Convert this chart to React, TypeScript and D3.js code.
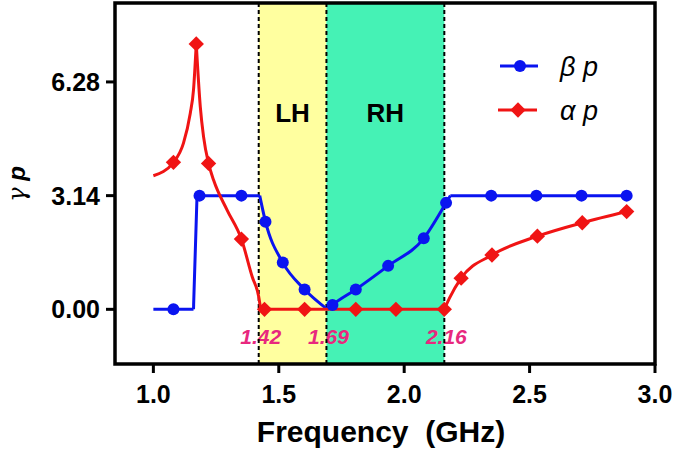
import React from 'react';
import * as d3 from 'd3';

// line vertices per piece (freq GHz, value), drawn with monotone curves
const betaLine: [number, number][][] = [
  [[1.0, 0], [1.16, 0]],
  [[1.16, 0], [1.174, 3.14]],
  [[1.174, 3.14], [1.424, 3.14]],
  [[1.424, 3.14], [1.447, 2.42], [1.516, 1.29], [1.603, 0.55], [1.694, 0]],
  [[1.694, 0], [1.714, 0.12], [1.807, 0.55], [1.936, 1.2], [2.078, 1.96], [2.167, 2.94], [2.184, 3.14]],
  [[2.184, 3.14], [2.887, 3.14]],
];
const alphaLine: [number, number][][] = [
  [[1.0, 3.69], [1.08, 4.06], [1.12, 4.59], [1.147, 5.41], [1.16, 6.06], [1.171, 7.33]],
  [[1.171, 7.33], [1.187, 5.6], [1.2, 4.77], [1.22, 4.03], [1.24, 3.57], [1.294, 2.74], [1.351, 1.94], [1.394, 0.9], [1.42, 0.35], [1.428, 0]],
  [[1.428, 0], [2.16, 0]],
  [[2.16, 0], [2.18, 0.3], [2.227, 0.86], [2.35, 1.5], [2.531, 2.02], [2.71, 2.39], [2.887, 2.7]],
];

// marker points
const betaFreq = [1.08, 1.184, 1.351, 1.447, 1.516, 1.603, 1.714, 1.807, 1.936, 2.078, 2.167, 2.347, 2.527, 2.707, 2.887];
const betaVal = [0, 3.14, 3.14, 2.42, 1.29, 0.55, 0.12, 0.55, 1.2, 1.96, 2.94, 3.14, 3.14, 3.14, 3.14];
const alphaFreq = [1.08, 1.171, 1.22, 1.351, 1.443, 1.603, 1.807, 1.967, 2.16, 2.227, 2.35, 2.531, 2.71, 2.887];
const alphaVal = [4.06, 7.33, 4.03, 1.94, 0, 0, 0, 0, 0, 0.86, 1.5, 2.02, 2.39, 2.7];

const xTicks = [1.0, 1.5, 2.0, 2.5, 3.0];
const yTicks = [0, 3.14, 6.28];
const bounds = [1.42, 1.69, 2.16];
const bands = [
  { name: 'LH', from: 1.42, to: 1.69, color: '#ffff9f' },
  { name: 'RH', from: 1.69, to: 2.16, color: '#45f2b5' },
];

const W = 675;
const H = 449;
const left = 115, right = 655, top = 3, bottom = 364;
const font = "Arial, 'Liberation Sans', sans-serif";

export default function App() {
  const x = d3.scaleLinear().domain([0.847, 3.0]).range([left, right]);
  const y = d3.scaleLinear().domain([-1.51, 8.46]).range([bottom, top]);
  const line = d3.line<[number, number]>()
    .x(d => x(d[0]))
    .y(d => y(d[1]))
    .curve(d3.curveMonotoneX);
  const diamond = d3.symbol().type(d3.symbolDiamond2).size(150)();

  return (
    <svg width={W} height={H} style={{ position: 'absolute', left: 0, top: 0, background: '#fff' }}>
      {bands.map(b => (
        <g key={b.name}>
          <rect x={x(b.from)} y={top} width={x(b.to) - x(b.from)} height={bottom - top} fill={b.color} />
          <text x={(x(b.from) + x(b.to)) / 2} y={122} textAnchor="middle" fontFamily={font}
            fontWeight="bold" fontSize={26}>{b.name}</text>
        </g>
      ))}
      {bounds.map(f => (
        <text key={'l' + f} x={x(f) + 2} y={344} textAnchor="middle" fontFamily={font}
          fontWeight="bold" fontStyle="italic" fontSize={21} fill="#e8287e">{f.toFixed(2)}</text>
      ))}
      {bounds.map(f => (
        <line key={'d' + f} x1={x(f)} x2={x(f)} y1={top} y2={bottom} stroke="#000"
          strokeWidth={2} strokeDasharray="4,3" />
      ))}
      {betaLine.map((seg, i) => (
        <path key={'b' + i} d={line(seg) || ''} fill="none" stroke="#0a14f0" strokeWidth={3} />
      ))}
      {alphaLine.map((seg, i) => (
        <path key={'a' + i} d={line(seg) || ''} fill="none" stroke="#f01414" strokeWidth={3} />
      ))}
      {alphaFreq.map((f, i) => (
        <path key={'am' + i} d={diamond} transform={`translate(${x(f)},${y(alphaVal[i])})`} fill="#f01414" />
      ))}
      {betaFreq.map((f, i) => (
        <circle key={'bm' + i} cx={x(f)} cy={y(betaVal[i])} r={6} fill="#0a14f0" />
      ))}

      {/* frame and ticks */}
      <rect x={left} y={top} width={right - left} height={bottom - top} fill="none" stroke="#000" strokeWidth={3.5} />
      {xTicks.map(t => (
        <g key={'xt' + t}>
          <line x1={x(t)} x2={x(t)} y1={bottom} y2={bottom + 9} stroke="#000" strokeWidth={3} />
          <text x={x(t)} y={403} textAnchor="middle" fontFamily={font} fontWeight="bold" fontSize={25}>
            {t.toFixed(1)}
          </text>
        </g>
      ))}
      {yTicks.map(t => (
        <g key={'yt' + t}>
          <line x1={left - 9} x2={left} y1={y(t)} y2={y(t)} stroke="#000" strokeWidth={3} />
          <text x={100} y={y(t) + 9} textAnchor="end" fontFamily={font} fontWeight="bold" fontSize={25}>
            {t.toFixed(2)}
          </text>
        </g>
      ))}
      <text x={381} y={442} textAnchor="middle" fontFamily={font} fontWeight="bold" fontSize={30}>
        Frequency{'\u00a0\u00a0'}(GHz)
      </text>
      <text transform="translate(25,184) rotate(-90)" textAnchor="middle" fontFamily={font} fontSize={24}>
        <tspan fontStyle="italic" fontFamily="'DejaVu Serif', serif">γ</tspan>
        <tspan fontStyle="italic" fontWeight="bold">{'\u00a0'}p</tspan>
      </text>

      {/* legend */}
      <line x1={500} x2={538} y1={66} y2={66} stroke="#0a14f0" strokeWidth={3} />
      <circle cx={520} cy={66} r={6} fill="#0a14f0" />
      <text x={560} y={76} fontFamily={font} fontStyle="italic" fontSize={27}>β p</text>
      <line x1={498} x2={537} y1={110} y2={110} stroke="#f01414" strokeWidth={3} />
      <path d={diamond} transform="translate(518,110)" fill="#f01414" />
      <text x={560} y={120} fontFamily={font} fontStyle="italic" fontSize={27}>α p</text>
    </svg>
  );
}
